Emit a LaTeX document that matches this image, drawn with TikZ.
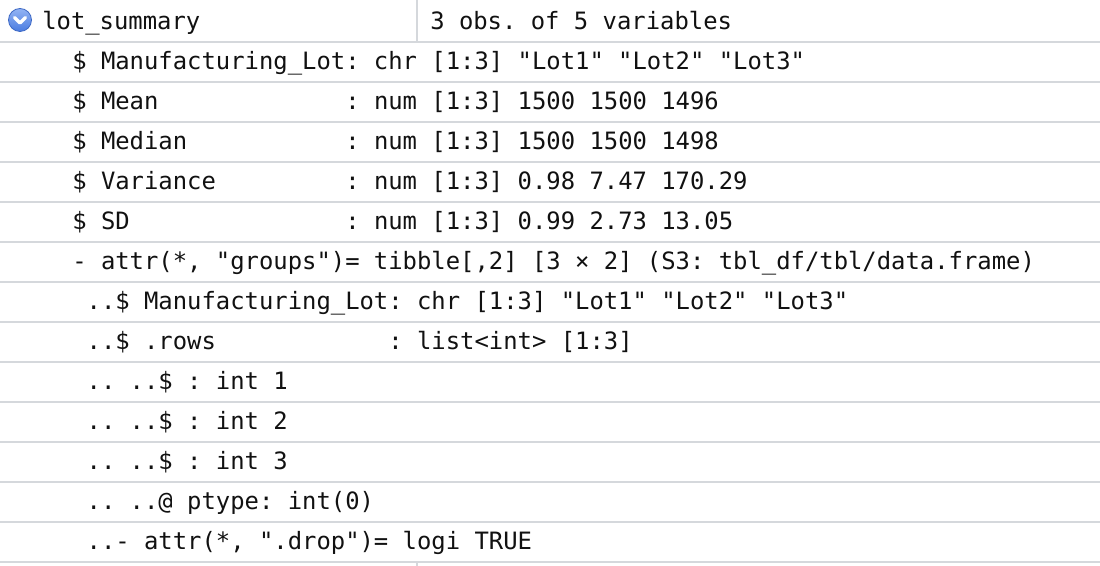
\documentclass[tikz,border=0pt]{standalone}
\usepackage{fontspec}
\setmonofont{DejaVu Sans Mono}
\usetikzlibrary{positioning}

\definecolor{colligne}{HTML}{D5D8DC}
\definecolor{coltexte}{HTML}{111111}
\definecolor{colbleuhaut}{HTML}{93B4F4}
\definecolor{colbleubas}{HTML}{4A7BE0}
\definecolor{colbleubord}{HTML}{3D68C4}

\begin{document}
\begin{tikzpicture}[x=0.75pt,y=-0.75pt,
	ligne/.style={draw=colligne,line width=1.5pt},
	texte/.style={anchor=base west,inner sep=0pt,text=coltexte,font=\ttfamily\fontsize{17.9}{21}\selectfont}]

%Dimensions
\def \largeur{1100}
\def \hauteur{566}
\def \hligne{40}
\def \premiereligne{41.7}
\def \colonne{417}
\def \retrait{72}
\def \base{29.5}

\useasboundingbox[fill=white] (0,0) rectangle (\largeur,\hauteur);

%Lignes de séparation
\foreach \i in {0,...,13}
	\draw[ligne] (0,\premiereligne+\hligne*\i) -- (\largeur,\premiereligne+\hligne*\i);

%Colonne
\draw[ligne] (\colonne,0) -- (\colonne,\premiereligne);
\draw[ligne] (\colonne,\premiereligne+13*\hligne) -- (\colonne,\hauteur);

%Icône
\shade[top color=colbleuhaut,bottom color=colbleubas,draw=colbleubord,line width=0.6pt] (20,20) circle (11.5);
\draw[white,line width=2.4pt,line cap=round,line join=round] (14.5,17.5) -- (20,23) -- (25.5,17.5);

%En-tête
\node[texte] (nom) at (42,\base) {lot\_summary};
\node[texte] (resume) at (430,\base) {3 obs. of 5 variables};

%Variables
\node[texte] (lot) at (\retrait,\base+\hligne) {\$ Manufacturing\_Lot: chr [1:3] "Lot1" "Lot2" "Lot3"};
\node[texte] (moyenne) at (\retrait,\base+2*\hligne) {\$ Mean~~~~~~~~~~~~~: num [1:3] 1500 1500 1496};
\node[texte] (mediane) at (\retrait,\base+3*\hligne) {\$ Median~~~~~~~~~~~: num [1:3] 1500 1500 1498};
\node[texte] (variance) at (\retrait,\base+4*\hligne) {\$ Variance~~~~~~~~~: num [1:3] 0.98 7.47 170.29};
\node[texte] (ecart) at (\retrait,\base+5*\hligne) {\$ SD~~~~~~~~~~~~~~~: num [1:3] 0.99 2.73 13.05};

%Attributs
\node[texte] (groupes) at (\retrait,\base+6*\hligne) {- attr(*, "groups")= tibble[,2] [3 × 2] (S3: tbl\_df/tbl/data.frame)};
\node[texte] (glot) at (\retrait,\base+7*\hligne) {~..\$ Manufacturing\_Lot: chr [1:3] "Lot1" "Lot2" "Lot3"};
\node[texte] (lignes) at (\retrait,\base+8*\hligne) {~..\$ .rows~~~~~~~~~~~~: list<int> [1:3]};
\node[texte] (int1) at (\retrait,\base+9*\hligne) {~.. ..\$ : int 1};
\node[texte] (int2) at (\retrait,\base+10*\hligne) {~.. ..\$ : int 2};
\node[texte] (int3) at (\retrait,\base+11*\hligne) {~.. ..\$ : int 3};
\node[texte] (ptype) at (\retrait,\base+12*\hligne) {~.. ..@ ptype: int(0)};
\node[texte] (drop) at (\retrait,\base+13*\hligne) {~..- attr(*, ".drop")= logi TRUE};

\end{tikzpicture}
\end{document}
